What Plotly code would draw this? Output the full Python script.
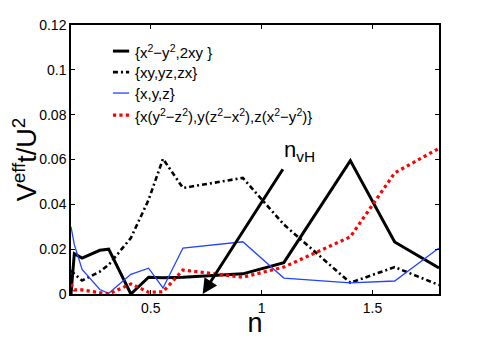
import plotly.graph_objects as go

# sampled filling values n (shared by all four curves)
n_vals = [0.14, 0.155, 0.19, 0.27, 0.31, 0.41, 0.49, 0.555, 0.645, 0.915, 1.1, 1.4, 1.6, 1.8]

# V_eff / U^2 for the four orbital sets
v_x2y2 = [0.0, 0.018, 0.016, 0.0195, 0.020, 0.0, 0.0075, 0.0072, 0.0075, 0.009, 0.014, 0.0595, 0.0232, 0.0116]
v_xy = [0.0105, 0.009, 0.006, 0.010, 0.013, 0.025, 0.042, 0.0603, 0.0473, 0.0518, 0.031, 0.005, 0.012, 0.004]
v_xyz = [0.030, 0.022, 0.011, 0.002, 0.0003, 0.0088, 0.0115, 0.0027, 0.0205, 0.0233, 0.0071, 0.005, 0.0058, 0.0205]
v_f = [0.0045, 0.0018, 0.0018, 0.0005, 0.0, 0.0045, 0.0008, 0.001, 0.0107, 0.0075, 0.012, 0.0255, 0.054, 0.065]

labels = [
    "{x<sup>2</sup>\u2212y<sup>2</sup>,2xy }",
    "{xy,yz,zx}",
    "{x,y,z}",
    "{x(y<sup>2</sup>\u2212z<sup>2</sup>),y(z<sup>2</sup>\u2212x<sup>2</sup>),z(x<sup>2</sup>\u2212y<sup>2</sup>)}",
]
series = [v_x2y2, v_xy, v_xyz, v_f]
styles = [
    dict(color="black", width=3, dash="solid"),
    dict(color="black", width=2.6, dash="5px,3px,2px,3px"),
    dict(color="#2244ff", width=1.3, dash="solid"),
    dict(color="red", width=3.2, dash="dot"),
]

# arrow marking n_vH
nvh_head = (0.734, 0.0)
nvh_tail = (1.10, 0.0563)

FONT = "Liberation Sans, Arial, Helvetica, sans-serif"

fig = go.Figure()
for lab, ys, st in zip(labels, series, styles):
    fig.add_trace(go.Scatter(x=n_vals, y=ys, mode="lines", name=lab, line=st))

# hand-drawn legend, MATLAB style (short samples)
legend_rows = [0.903, 0.825, 0.747, 0.665]
shapes = []
annotations = []
for lab, st, yr in zip(labels, styles, legend_rows):
    shapes.append(dict(type="line", xref="paper", yref="paper", x0=0.114, x1=0.158, y0=yr, y1=yr,
                       line=dict(color=st["color"], width=st["width"], dash=st["dash"])))
    annotations.append(dict(xref="paper", yref="paper", x=0.168, y=yr, xanchor="left", yanchor="middle",
                            text=lab, showarrow=False, font=dict(family=FONT, size=15, color="black")))

annotations.append(dict(x=nvh_head[0], y=nvh_head[1], ax=nvh_tail[0], ay=nvh_tail[1],
                        xref="x", yref="y", axref="x", ayref="y", text="", showarrow=True,
                        arrowhead=2, arrowsize=1, arrowwidth=3, arrowcolor="black"))
annotations.append(dict(x=1.093, y=0.0565, xref="x", yref="y", xanchor="left", yanchor="bottom",
                        text="n<sub>vH</sub>", showarrow=False, font=dict(family=FONT, size=22, color="black")))

axis_common = dict(showgrid=False, zeroline=False, showline=True, linecolor="black", linewidth=1.5,
                   mirror="ticks", ticks="inside", ticklen=4, tickwidth=1, tickcolor="black",
                   automargin=False, tickfont=dict(family=FONT, size=14, color="black"))

# the page body keeps its 8px default margin, so the figure is 8px smaller than the window
fig.update_layout(
    width=477, height=330,
    margin=dict(l=63, r=46, t=17, b=44),
    plot_bgcolor="white", paper_bgcolor="white",
    showlegend=False,
    shapes=shapes,
    annotations=annotations,
    xaxis=dict(range=[0.14, 1.8], tickvals=[0.5, 1, 1.5], ticktext=["0.5", "1", "1.5"],
               title=dict(text="n", font=dict(family=FONT, size=27, color="black"), standoff=1),
               **axis_common),
    yaxis=dict(range=[0, 0.12], tickvals=[0, 0.02, 0.04, 0.06, 0.08, 0.1, 0.12],
               ticktext=["0", "0.02", "0.04", "0.06", "0.08", "0.1", "0.12"],
               title=dict(text="V<sup>eff</sup>t/U<sup>2</sup>", font=dict(family=FONT, size=27, color="black"),
                          standoff=4),
               **axis_common),
)

fig.write_html("out.html")
